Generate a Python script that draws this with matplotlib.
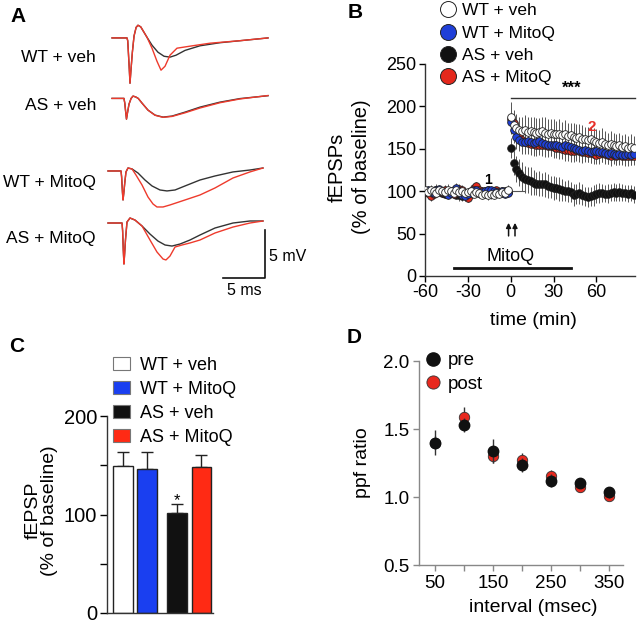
import numpy as np
import matplotlib.pyplot as plt
import matplotlib as mpl
from matplotlib.lines import Line2D
from matplotlib.patches import Patch

mpl.rcParams.update({
    "font.family": ["Liberation Sans", "DejaVu Sans"],
    "font.size": 13,
    "axes.linewidth": 1.0,
    "axes.unicode_minus": False,
    "xtick.direction": "out",
    "ytick.direction": "out",
})

W, H = 640, 625

def fx(x):
    return x / W

def fy(y):
    return 1 - y / H

BLK = "#111111"
RED = "#e4281c"
BLUE = "#1f3fd8"
GREY = "#444444"

# ---------- panel A: example traces (ms, mV relative to baseline) ----------
A_LABELS = ["WT + veh", "AS + veh", "WT + MitoQ", "AS + MitoQ"]

WTV_BLK_T = [0.48, 2.26, 2.35, 2.52, 2.62, 2.72, 2.9, 3.1, 3.35, 3.57, 3.9, 4.64, 5.24, 5.95, 6.67, 7.38, 8.1, 9.17, 10.95, 13.33, 16.3, 19.05]
WTV_BLK_V = [0, 0, -0.3, -3.0, -4.72, -3.5, -1.5, 0.2, 1.1, 1.32, 1.15, 0.07, -0.76, -1.49, -1.91, -2.0, -1.8, -1.3, -0.82, -0.5, -0.24, 0]
WTV_RED_T = [0.48, 2.26, 2.35, 2.52, 2.62, 2.72, 2.9, 3.1, 3.35, 3.57, 3.9, 4.64, 5.24, 5.83, 6.31, 6.79, 7.38, 8.21, 9.76, 12.14, 15.7, 19.05]
WTV_RED_V = [0, 0, -0.3, -3.0, -4.72, -3.5, -1.5, 0.2, 1.1, 1.32, 1.15, 0.07, -1.07, -2.43, -3.36, -2.95, -1.8, -1.07, -0.86, -0.55, -0.29, 0]

ASV_BLK_T = [0.48, 1.9, 2.0, 2.08, 2.2, 2.32, 2.5, 2.75, 2.98, 3.3, 3.6, 4.05, 4.76, 5.6, 6.55, 7.62, 9.17, 10.95, 13.33, 15.7, 19.05]
ASV_BLK_V = [0, 0, -0.5, -1.2, -2.16, -1.5, -0.6, 0.0, 0.24, 0.15, 0.0, -0.49, -1.22, -1.74, -1.95, -1.84, -1.43, -0.91, -0.39, -0.02, 0.28]
ASV_RED_T = ASV_BLK_T
ASV_RED_V = [0, 0, -0.5, -1.2, -2.16, -1.5, -0.6, 0.0, 0.24, 0.15, 0.0, -0.49, -1.22, -1.76, -1.97, -1.88, -1.5, -1.0, -0.45, -0.06, 0.3]

WTM_BLK_T = [0, 1.55, 1.62, 1.72, 1.79, 1.88, 2.0, 2.14, 2.38, 2.86, 3.57, 4.4, 5.24, 6.19, 7.02, 7.98, 9.17, 10.95, 12.74, 14.88, 16.9, 18.45]
WTM_BLK_V = [0, 0, -0.6, -2.2, -3.02, -2.3, -1.2, -0.1, 0.31, 0.21, -0.21, -0.94, -1.56, -1.98, -2.08, -1.98, -1.56, -0.94, -0.52, -0.1, 0.1, 0.31]
WTM_RED_T = [0, 1.55, 1.62, 1.72, 1.79, 1.88, 2.0, 2.14, 2.38, 2.86, 3.33, 4.05, 4.76, 5.36, 5.83, 6.55, 7.38, 9.17, 10.95, 12.74, 14.88, 16.9, 18.45]
WTM_RED_V = [0, 0, -0.6, -2.2, -3.02, -2.3, -1.2, -0.1, 0.31, 0.21, -0.42, -1.46, -2.71, -3.44, -3.75, -3.75, -3.54, -3.02, -2.5, -1.77, -0.73, -0.1, 0.31]

ASM_BLK_T = [0, 1.67, 1.74, 1.82, 1.9, 1.98, 2.08, 2.26, 2.62, 3.21, 4.05, 5.0, 5.95, 6.79, 7.62, 8.57, 9.76, 10.95, 12.74, 14.88, 16.9, 18.45]
ASM_BLK_V = [0, 0, -0.8, -2.8, -4.27, -3.2, -1.77, 0.1, 0.52, 0.31, -0.31, -1.15, -1.88, -2.29, -2.4, -2.19, -1.77, -1.25, -0.52, 0, 0.21, 0.21]
ASM_RED_T = [0, 1.67, 1.74, 1.82, 1.9, 1.98, 2.08, 2.26, 2.62, 3.21, 4.05, 5.0, 5.83, 6.55, 6.9, 7.38, 7.98, 8.81, 9.76, 10.95, 12.74, 14.88, 16.9, 18.45]
ASM_RED_V = [0, 0, -0.8, -2.8, -4.27, -3.2, -1.77, 0.1, 0.52, 0.31, -0.31, -1.77, -3.02, -3.75, -3.85, -3.44, -2.5, -2.29, -2.08, -1.77, -1.04, -0.42, 0, 0.21]

# ---------- panel B: time course ----------
T_PRE = np.arange(-60, 0, 2)
T_POST = np.arange(0, 88, 2)
B_LABELS = ["WT + veh", "WT + MitoQ", "AS + veh", "AS + MitoQ"]

WTV_PRE = [101, 99, 102, 100, 98, 101, 100, 99, 102, 100, 98, 101, 99, 100, 98, 99, 100, 97, 99, 98, 96, 97, 95, 97, 96, 98, 97, 99, 98, 102]
WTM_PRE = [100, 101, 99, 98, 102, 103, 100, 99, 96, 98, 101, 104, 100, 95, 94, 97, 100, 102, 101, 98, 99, 100, 101, 102, 100, 99, 98, 100, 97, 98]
ASV_PRE = [99, 100, 98, 99, 101, 100, 98, 97, 99, 100, 98, 96, 95, 94, 96, 95, 97, 99, 100, 98, 99, 100, 101, 99, 98, 100, 99, 98, 100, 99]
ASM_PRE = [100, 98, 94, 97, 101, 100, 99, 102, 100, 98, 97, 100, 103, 101, 96, 92, 98, 104, 106, 101, 100, 98, 99, 100, 98, 101, 99, 100, 98, 99]

WTV_POST = [188, 178, 174, 172, 171, 172, 170, 171, 170, 169, 170, 171, 169, 168, 169, 168, 167, 168, 166, 167, 165, 166, 164, 163, 164, 162, 161, 160, 161, 159, 158, 157, 158, 156, 155, 156, 154, 153, 154, 152, 153, 151, 152, 151]
WTM_POST = [182, 172, 164, 160, 158, 158, 159, 158, 157, 158, 159, 157, 156, 155, 154, 155, 154, 153, 152, 154, 153, 152, 151, 150, 148, 147, 148, 147, 146, 147, 147, 146, 146, 145, 144, 145, 144, 143, 144, 143, 143, 144, 143, 144]
ASV_POST = [151, 133, 126, 122, 117, 114, 113, 112, 110, 109, 109, 108, 108, 106, 105, 104, 104, 103, 101, 100, 100, 99, 96, 97, 98, 96, 94, 93, 94, 95, 97, 98, 98, 97, 97, 98, 99, 98, 99, 98, 98, 97, 98, 96]
ASM_POST = [185, 180, 172, 165, 160, 158, 157, 156, 156, 155, 155, 154, 154, 153, 153, 152, 151, 151, 150, 149, 148, 147, 147, 148, 147, 146, 146, 145, 145, 144, 143, 144, 145, 144, 143, 142, 143, 142, 143, 142, 141, 142, 142, 142]

WTV_PRE_ERR = [5, 4, 5, 6, 4, 5, 5, 4, 6, 5, 4, 5, 5, 6, 4, 5, 5, 4, 6, 5, 5, 4, 5, 6, 5, 4, 5, 5, 4, 5]
WTM_PRE_ERR = [4, 5, 4, 5, 6, 4, 5, 4, 5, 5, 4, 6, 5, 4, 5, 4, 5, 5, 4, 5, 6, 4, 5, 4, 5, 5, 4, 5, 4, 5]
ASV_PRE_ERR = [5, 5, 4, 5, 4, 6, 5, 5, 4, 5, 5, 4, 6, 5, 5, 4, 5, 4, 5, 6, 5, 4, 5, 5, 4, 5, 6, 4, 5, 4]
ASM_PRE_ERR = [4, 5, 5, 4, 5, 4, 6, 5, 4, 5, 5, 4, 5, 6, 4, 5, 5, 4, 5, 4, 5, 6, 4, 5, 5, 4, 5, 4, 6, 5]

WTV_POST_ERR = [17, 18, 17, 16, 17, 18, 17, 16, 17, 17, 16, 17, 18, 17, 16, 17, 16, 17, 16, 17, 16, 15, 16, 16, 15, 16, 15, 16, 15, 16, 15, 15, 16, 15, 14, 15, 15, 14, 15, 14, 15, 14, 15, 14]
WTM_POST_ERR = [14, 15, 14, 13, 14, 13, 14, 13, 14, 13, 14, 13, 13, 14, 13, 12, 13, 14, 13, 12, 13, 13, 12, 13, 12, 13, 12, 12, 13, 12, 12, 13, 12, 11, 12, 12, 11, 12, 12, 11, 12, 11, 12, 11]
ASV_POST_ERR = [12, 14, 15, 16, 17, 16, 15, 16, 15, 14, 15, 14, 15, 14, 13, 14, 13, 14, 13, 12, 13, 12, 13, 12, 13, 12, 11, 12, 11, 12, 11, 12, 11, 10, 11, 10, 11, 10, 11, 10, 9, 10, 9, 10]
ASM_POST_ERR = [14, 14, 13, 14, 13, 14, 13, 13, 14, 13, 12, 13, 14, 13, 12, 13, 12, 13, 12, 13, 12, 12, 13, 12, 12, 13, 12, 11, 12, 12, 11, 12, 11, 12, 11, 12, 11, 11, 12, 11, 11, 12, 11, 11]

# ---------- panel C: bar summary ----------
C_LABELS = ["WT + veh", "WT + MitoQ", "AS + veh", "AS + MitoQ"]
C_MEANS = [149, 146, 102, 148]
C_SEM = [14, 17, 9, 12]

# ---------- panel D: paired-pulse ----------
D_INTERVAL = [50, 100, 150, 200, 250, 300, 350]
D_PRE = [1.40, 1.53, 1.34, 1.235, 1.12, 1.10, 1.035]
D_POST = [1.40, 1.585, 1.30, 1.27, 1.155, 1.07, 1.01]
D_PRE_ERR = [0.09, 0.05, 0.09, 0.05, 0.05, 0.03, 0.04]
D_POST_ERR = [0.05, 0.08, 0.05, 0.05, 0.04, 0.03, 0.03]


fig = plt.figure(figsize=(W / 100, H / 100), dpi=100)

# ===== A =====
axA = fig.add_axes([fx(100), fy(300), 175 / W, 280 / H])
axA.set_xlim((100 - 108) / 8.4, (275 - 108) / 8.4)
axA.set_ylim(0, 280 / 9.6)
axA.axis("off")
traces = [
    (WTV_BLK_T, WTV_BLK_V, WTV_RED_T, WTV_RED_V, 27.3),
    (ASV_BLK_T, ASV_BLK_V, ASV_RED_T, ASV_RED_V, 21.0),
    (WTM_BLK_T, WTM_BLK_V, WTM_RED_T, WTM_RED_V, 13.44),
    (ASM_BLK_T, ASM_BLK_V, ASM_RED_T, ASM_RED_V, 8.02),
]
for bt, bv, rt, rv, off in traces:
    axA.plot(bt, np.array(bv) + off, color="#333333", lw=1.0)
    axA.plot(rt, np.array(rv) + off, color="#ee3a2c", lw=1.0)
for lab, ypx in zip(A_LABELS, [58, 105, 182, 238]):
    fig.text(fx(96), fy(ypx), lab, ha="right", va="center", fontsize=12.5)
# scale bar 5 ms / 5 mV
axA.plot([13.69, 18.69, 18.69], [2.29, 2.29, 7.29], color=BLK, lw=1.2)
axA.text(19.2, 4.5, "5 mV", ha="left", va="center", fontsize=11.5)
axA.text(16.2, 1.0, "5 ms", ha="center", va="center", fontsize=11.5)

# ===== B =====
axB = fig.add_axes([fx(425), fy(276), 210 / W, 212 / H])
series = [
    (ASV_PRE, ASV_POST, ASV_PRE_ERR, ASV_POST_ERR, BLK),
    (ASM_PRE, ASM_POST, ASM_PRE_ERR, ASM_POST_ERR, RED),
    (WTM_PRE, WTM_POST, WTM_PRE_ERR, WTM_POST_ERR, BLUE),
    (WTV_PRE, WTV_POST, WTV_PRE_ERR, WTV_POST_ERR, "white"),
]
for pre, post, pe, poe, col in series:
    t = np.concatenate([T_PRE, T_POST])
    y = np.array(pre + post)
    e = np.array(pe + poe)
    axB.errorbar(t, y, yerr=e, fmt="none", ecolor="#555555", elinewidth=0.7, capsize=0, zorder=2)
    axB.plot(t, y, "o", ms=5.5, mfc=col, mec="#222222", mew=0.6, zorder=3)
axB.plot([-2, 10], [100, 100], color="#555555", lw=0.8, zorder=1)
axB.set_xlim(-60, 87)
axB.set_ylim(0, 250)
axB.set_xticks([-60, -30, 0, 30, 60])
axB.set_yticks([0, 50, 100, 150, 200, 250])
axB.tick_params(labelsize=13, length=4, width=1, pad=2)
for s in ("top", "right"):
    axB.spines[s].set_visible(False)
for s in ("left", "bottom"):
    axB.spines[s].set_color("#333333")
axB.text(-0.36, 0.514, "fEPSPs\n(% of baseline)", transform=axB.transAxes, rotation=90,
         ha="center", va="center", fontsize=14.5, linespacing=1.3)
axB.text(0.514, -0.208, "time (min)", transform=axB.transAxes, ha="center", va="center", fontsize=14)
axB.plot([-40, 42], [9, 9], color=BLK, lw=2.0, clip_on=False)
axB.text(0, 23, "MitoQ", ha="center", va="center", fontsize=13)
axB.plot([0, 87], [210, 210], color="#333333", lw=1.0, clip_on=False)
axB.text(43, 212, "***", ha="center", va="bottom", fontsize=12, fontweight="bold")
axB.text(-16, 113, "1", ha="center", va="center", fontsize=10, fontweight="bold")
axB.text(56.5, 176, "2", ha="center", va="center", fontsize=11, fontweight="bold", color="#e8302a")
for tx in (-1.5, 3):
    axB.annotate("", xy=(tx, 66), xytext=(tx, 44),
                 arrowprops=dict(arrowstyle="-|>", color=BLK, lw=1.1, mutation_scale=7))
b_handles = [Line2D([], [], ls="none", marker="o", ms=11.5, mfc=c, mec="#222222", mew=0.7)
             for c in ["white", BLUE, BLK, RED]]
fig.legend(b_handles, B_LABELS, loc="upper left", bbox_to_anchor=(fx(439), fy(3)),
           frameon=False, fontsize=12.5, handlelength=1.0, handletextpad=0.32,
           labelspacing=0.42, borderpad=0, borderaxespad=0)

# ===== C =====
axC = fig.add_axes([fx(107), fy(613), 106 / W, 197 / H])
xc = [0, 1, 2.22, 3.22]
axC.bar(xc, C_MEANS, width=0.8, color=["white", "#1a3ff0", BLK, "#ff2a14"],
        edgecolor="#222222", linewidth=1.0, zorder=2)
axC.errorbar(xc, C_MEANS, yerr=[np.zeros(4), C_SEM], fmt="none", ecolor="#222222",
             elinewidth=1.0, capsize=4, capthick=1.0, zorder=1)
axC.text(2.22, 106, "*", ha="center", va="bottom", fontsize=12)
axC.set_xlim(-0.65, 3.7)
axC.set_ylim(0, 200)
axC.set_xticks([])
axC.set_yticks([0, 100, 200])
axC.set_yticks([50, 150], minor=True)
axC.tick_params(axis="y", which="both", labelsize=14.5, length=5, width=1, pad=2)
for s in ("top", "right"):
    axC.spines[s].set_visible(False)
for s in ("left", "bottom"):
    axC.spines[s].set_color("#333333")
axC.text(-0.62, 0.52, "fEPSP\n(% of baseline)", transform=axC.transAxes, rotation=90,
         ha="center", va="center", fontsize=14, linespacing=0.9)
c_handles = [Patch(facecolor=c, edgecolor="#777777", lw=0.8) for c in ["white", "#1a3ff0", BLK, "#ff2a14"]]
fig.legend(c_handles, C_LABELS, loc="upper left", bbox_to_anchor=(fx(113), fy(357)),
           frameon=False, fontsize=13, handlelength=0.95, handleheight=0.72,
           handletextpad=0.55, labelspacing=0.38, borderpad=0, borderaxespad=0)

# ===== D =====
axD = fig.add_axes([fx(419), fy(565), 204 / W, 204 / H])
axD.errorbar(D_INTERVAL, D_POST, yerr=D_POST_ERR, fmt="o", ms=7.5, mfc="#e8281e", mec="#333333",
             mew=0.6, ecolor="#333333", elinewidth=1.0, capsize=0, zorder=2)
axD.errorbar(D_INTERVAL, D_PRE, yerr=D_PRE_ERR, fmt="o", ms=7.5, mfc=BLK, mec=BLK,
             ecolor="#333333", elinewidth=1.0, capsize=0, zorder=3)
axD.set_xlim(22.7, 373.7)
axD.set_ylim(0.5, 2.0)
axD.set_xticks(D_INTERVAL)
axD.set_xticklabels(["50", "", "150", "", "250", "", "350"])
axD.set_yticks([0.5, 1.0, 1.5, 2.0])
axD.tick_params(labelsize=13.5, length=4, width=1, pad=3, color="#888888")
for s in ("top", "right"):
    axD.spines[s].set_visible(False)
for s in ("left", "bottom"):
    axD.spines[s].set_color("#888888")
axD.text(-0.275, 0.5, "ppf ratio", transform=axD.transAxes, rotation=90,
         ha="center", va="center", fontsize=14)
axD.text(0.56, -0.206, "interval (msec)", transform=axD.transAxes, ha="center", va="center", fontsize=14)
d_handles = [Line2D([], [], ls="none", marker="o", ms=9.5, mfc=BLK, mec=BLK),
             Line2D([], [], ls="none", marker="o", ms=9.5, mfc="#e8281e", mec="#333333", mew=0.6)]
fig.legend(d_handles, ["pre", "post"], loc="upper left", bbox_to_anchor=(fx(424), fy(352)),
           frameon=False, fontsize=13.5, handlelength=1.0, handletextpad=0.28,
           labelspacing=0.35, borderpad=0, borderaxespad=0)

# panel letters
for lab, (x, y) in zip("ABCD", [(18, 16), (355, 13), (17, 346), (354, 338)]):
    fig.text(fx(x), fy(y), lab, ha="center", va="center", fontsize=15, fontweight="bold")

fig.savefig("out.png", dpi=100)
